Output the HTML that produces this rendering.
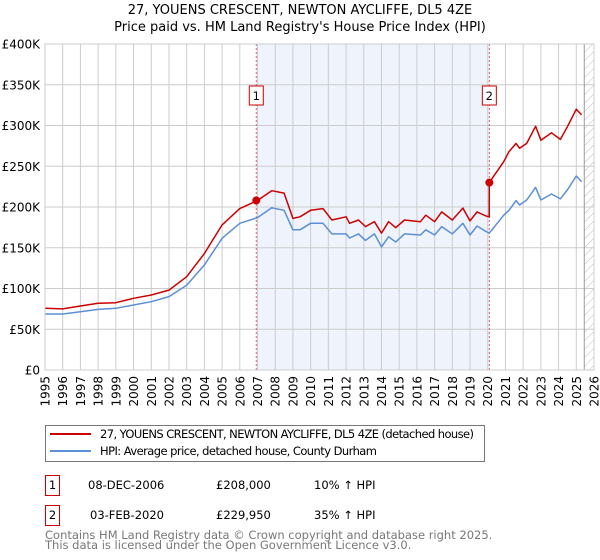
<!DOCTYPE html>
<html><head><meta charset="utf-8"><style>
body{margin:0;background:#fff;font-family:"Liberation Sans","DejaVu Sans",sans-serif;}
#wrap{position:relative;width:600px;height:560px;overflow:hidden}
</style></head><body><div id="wrap">
<svg id="chart" width="600" height="560" xmlns="http://www.w3.org/2000/svg" font-family="DejaVu Sans, Liberation Sans, sans-serif">
<defs><pattern id="hatch" width="6" height="6" patternUnits="userSpaceOnUse" patternTransform="rotate(45)"><line x1="0" y1="0" x2="0" y2="6" stroke="#bbb" stroke-width="1"/></pattern></defs>
<text x="300" y="14" text-anchor="middle" font-size="13">27, YOUENS CRESCENT, NEWTON AYCLIFFE, DL5 4ZE</text>
<text x="300" y="31" text-anchor="middle" font-size="13">Price paid vs. HM Land Registry's House Price Index (HPI)</text>
<g id="plot"></g>
<rect x="45.5" y="425.5" width="439" height="36" fill="#fff" stroke="#777"/>
<line x1="50" y1="434" x2="91" y2="434" stroke="#cc0000" stroke-width="2"/>
<text x="100" y="438" font-size="11.5" textLength="374">27, YOUENS CRESCENT, NEWTON AYCLIFFE, DL5 4ZE (detached house)</text>
<line x1="50" y1="451" x2="91" y2="451" stroke="#5b8fd6" stroke-width="2"/>
<text x="100" y="455" font-size="11.5" textLength="277">HPI: Average price, detached house, County Durham</text>
<g font-size="11.5">
<rect x="45.5" y="475.5" width="14" height="20" fill="#fff" stroke="#cc0000"/>
<text x="52.5" y="489" text-anchor="middle">1</text>
<text x="88" y="489">08-DEC-2006</text>
<text x="216" y="489">£208,000</text>
<text x="314" y="489">10% ↑ HPI</text>
<rect x="45.5" y="505.5" width="14" height="20" fill="#fff" stroke="#cc0000"/>
<text x="52.5" y="519" text-anchor="middle">2</text>
<text x="90" y="519">03-FEB-2020</text>
<text x="216" y="519">£229,950</text>
<text x="314" y="519">35% ↑ HPI</text>
</g>
<text x="45" y="539" font-size="11.5" fill="#777">Contains HM Land Registry data © Crown copyright and database right 2025.</text>
<text x="45" y="549" font-size="11.5" fill="#777">This data is licensed under the Open Government Licence v3.0.</text>
</svg></div>
<script>
const years=[1995,1996,1997,1998,1999,2000,2001,2002,2003,2004,2005,2006,2007,2007.8,2008.5,2009,2009.4,2010,2010.7,2011.2,2012,2012.2,2012.7,2013.1,2013.6,2014,2014.4,2014.8,2015.3,2016.2,2016.5,2017,2017.4,2018,2018.6,2019,2019.4,2019.9,2020.08,2020.09,2020.9,2021.2,2021.6,2021.8,2022.2,2022.7,2023,2023.6,2024.1,2024.5,2025,2025.3];
const hpi=[68.7,68.7,71.5,74.4,75.7,79.8,83.8,90,104,129,161.6,180,187,199,196,172,172,180,180,167,167,162,167,159,167,151,163.5,157,167,165.6,172,165.6,176,167,180,165.6,176.7,170,168,168,190,196,207.8,202.5,208.6,224,208.6,216,210,221,238,231];
const price=[75.7,75,78.5,81.8,82.6,88,92,98,114.5,143,178,198,208,220,217,186,188,196,198,184,188,180,184,176,182,168,182,174.6,184,182,190,182,194,184,198.6,183,194,189,188,229.95,255.6,268,278,272,278,299,282,291,283,298.5,320,313];
const yTicks=[0,50,100,150,200,250,300,350,400];
const yTickLabels=["£0","£50K","£100K","£150K","£200K","£250K","£300K","£350K","£400K"];
const xTicks=[1995,1996,1997,1998,1999,2000,2001,2002,2003,2004,2005,2006,2007,2008,2009,2010,2011,2012,2013,2014,2015,2016,2017,2018,2019,2020,2021,2022,2023,2024,2025,2026];
const saleYears=[2006.93,2020.09];
const saleValues=[208,229.95];
const saleLabels=["1","2"];
const hatchStart=2025.45;

const X0=45,X1=594,Y0=370,Y1=44;
const xs=t=>X0+(t-1995)/(2026-1995)*(X1-X0);
const ys=v=>Y0-v/400*(Y0-Y1);
const NS="http://www.w3.org/2000/svg";
const g=document.getElementById('plot');
function mk(tag,attrs,parent){const e=document.createElementNS(NS,tag);for(const k in attrs)e.setAttribute(k,attrs[k]);(parent||g).appendChild(e);return e;}
let e;
e=mk('rect',{x:xs(saleYears[0]),y:Y1,width:xs(saleYears[1])-xs(saleYears[0]),height:Y0-Y1,fill:'#eef3fc'});


e=mk('rect',{x:xs(hatchStart),y:Y1,width:X1-xs(hatchStart),height:Y0-Y1,fill:'url(#hatch)'});


xTicks.forEach(t=>{
  e=mk('line',{x1:xs(t),x2:xs(t),y1:Y1,y2:Y0,stroke:'#cccccc','stroke-width':1});
  
  
  e=mk('text',{x:0,y:0,'font-size':12,'text-anchor':'end',transform:`translate(${xs(t)+4.5},${Y0+6}) rotate(-90)`});
  e.textContent=t;
  
  
});
yTicks.forEach((v,i)=>{
  e=mk('line',{x1:X0,x2:X1,y1:ys(v),y2:ys(v),stroke:'#cccccc','stroke-width':1});
  
  
  e=mk('text',{x:40,y:ys(v)+4.5,'font-size':12,'text-anchor':'end'});
  e.textContent=yTickLabels[i];
  
  
});
e=mk('line',{x1:xs(hatchStart),x2:xs(hatchStart),y1:Y1,y2:Y0,stroke:'#999','stroke-width':1});


saleYears.forEach((t,i)=>{
  e=mk('line',{x1:xs(t),x2:xs(t),y1:Y1,y2:Y0,stroke:'#e06060','stroke-width':1,'stroke-dasharray':'2,2'});
  
  
  e=mk('rect',{x:xs(t)-7,y:86,width:14,height:19,fill:'#fff',stroke:'#cc0000'});
  
  
  e=mk('text',{x:xs(t),y:100,'font-size':11.5,'text-anchor':'middle'});
  e.textContent=saleLabels[i];
  
  
});
const pts=arr=>arr.map((v,i)=>xs(years[i]).toFixed(1)+','+ys(v).toFixed(1)).join(' ');
e=mk('polyline',{points:pts(hpi),fill:'none',stroke:'#5b8fd6','stroke-width':1.5,'stroke-linejoin':'round'});


e=mk('polyline',{points:pts(price),fill:'none',stroke:'#cc0000','stroke-width':1.5,'stroke-linejoin':'round'});


saleYears.forEach((t,i)=>{
  e=mk('circle',{cx:xs(t),cy:ys(saleValues[i]),r:4,fill:'#cc0000'});
  
  
});
e=mk('rect',{x:X0,y:Y1,width:X1-X0,height:Y0-Y1,fill:'none',stroke:'#cccccc'});


</script></body></html>
